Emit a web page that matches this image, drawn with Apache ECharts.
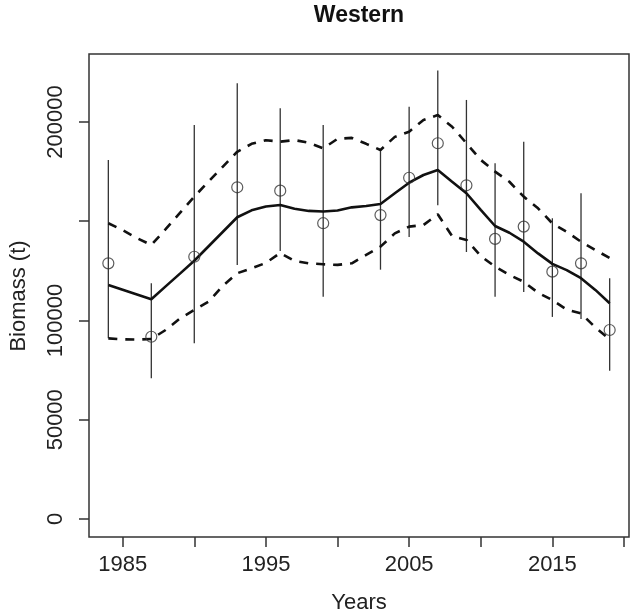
<!DOCTYPE html>
<html>
<head>
<meta charset="utf-8">
<script src="https://cdn.jsdelivr.net/npm/echarts@6/dist/echarts.min.js"></script>
<style>html,body{margin:0;padding:0;background:#fff}#c{width:634px;height:616px}</style>
</head>
<body>
<div id="c"></div>
<script>
// Survey observations
const obsYears = [1984,1987,1990,1993,1996,1999,2003,2005,2007,2009,2011,2013,2015,2017,2019];
const obsValues = [128800,91800,132100,167100,165400,149000,153100,171900,189300,168100,141100,147300,124600,128800,95200];
const obsLower = [91000,70900,88500,128000,135000,112000,125600,142000,158000,134500,112000,114300,101800,100800,74700];
const obsUpper = [180900,118700,198500,219500,206900,198500,185900,207700,225900,211100,179200,190100,151500,164100,121300];

// Model fit (annual)
const fitYears = [1984,1985,1986,1987,1988,1989,1990,1991,1992,1993,1994,1995,1996,1997,1998,1999,2000,2001,2002,2003,2004,2005,2006,2007,2008,2009,2010,2011,2012,2013,2014,2015,2016,2017,2018,2019];
const fitValues = [117900,115500,113100,110700,117200,123600,130100,137400,144700,152000,155500,157400,158200,156300,155200,154900,155400,157000,157700,158700,164100,169400,173300,175800,169900,164100,155700,147600,144200,139700,133800,128500,125400,121300,115400,108700];
const fitUpper = [149000,145500,141500,138000,146000,154200,162400,170000,177500,185000,189000,190800,190100,190900,189500,186700,191500,192000,189000,185900,192500,195100,201000,203500,197600,189300,180900,175000,169900,162400,156500,148900,144700,139700,135500,131500];
const fitLower = [91000,90500,90400,90700,95200,101000,105300,109500,117500,123800,126300,129000,134000,130000,128800,128300,128000,128800,133000,137200,143900,147300,148100,153500,142500,140600,132500,127100,122900,119500,114000,110300,105500,103600,96500,90500];

// Axis ticks and labels
const xTicks = [1985,1990,1995,2000,2005,2010,2015,2020];
const xLabels = [1985,1995,2005,2015];
const yTicks = [0,50000,100000,150000,200000];
const yLabels = [0,50000,100000,200000];

const FONT = '"Liberation Sans", Arial, sans-serif';
const INK = '#222';

const pair = (xs, ys) => xs.map((x, i) => [x, ys[i]]);
const errData = obsYears.map((y, i) => [y, obsLower[i], obsUpper[i]]);
const plain = v => String(Math.round(v));

const chart = echarts.init(document.getElementById('c'), null, {renderer: 'canvas'});
chart.setOption({
  animation: false,
  backgroundColor: '#fff',
  grid: {left: 89, right: 5, top: 54, bottom: 79, show: true, borderColor: '#333', borderWidth: 1.5, backgroundColor: 'transparent'},
  xAxis: {
    type: 'value', min: 1982.65, max: 2020.35,
    axisLine: {show: false, onZero: false},
    splitLine: {show: false},
    axisTick: {show: true, inside: false, length: 10, customValues: xTicks, lineStyle: {color: '#333', width: 1.5}},
    axisLabel: {customValues: xLabels, formatter: plain, margin: 17, fontSize: 22, color: INK, fontFamily: FONT}
  },
  yAxis: {
    type: 'value', min: -9070, max: 234250,
    axisLine: {show: false, onZero: false},
    splitLine: {show: false},
    axisTick: {show: true, inside: false, length: 10, customValues: yTicks, lineStyle: {color: '#333', width: 1.5}},
    axisLabel: {customValues: yLabels, formatter: plain, rotate: 90, margin: 22, fontSize: 22, color: INK, fontFamily: FONT}
  },
  graphic: [
    {type: 'text', x: 359, y: 16, style: {text: 'Western', font: 'bold 23px ' + FONT, fill: '#111', textAlign: 'center', textVerticalAlign: 'middle'}},
    {type: 'text', x: 359, y: 603, style: {text: 'Years', font: '22px ' + FONT, fill: INK, textAlign: 'center', textVerticalAlign: 'middle'}},
    {type: 'text', x: 19, y: 296, rotation: Math.PI / 2, style: {text: 'Biomass (t)', font: '22px ' + FONT, fill: INK, textAlign: 'center', textVerticalAlign: 'middle'}}
  ],
  series: [
    {
      type: 'custom', data: errData, z: 2,
      renderItem: function (params, api) {
        const p1 = api.coord([api.value(0), api.value(1)]);
        const p2 = api.coord([api.value(0), api.value(2)]);
        return {type: 'line', shape: {x1: p1[0], y1: p1[1], x2: p2[0], y2: p2[1]}, style: {stroke: '#333', lineWidth: 1.3}};
      }
    },
    {type: 'line', data: pair(fitYears, fitValues), symbol: 'none', lineStyle: {color: '#111', width: 2.6, type: 'solid'}, z: 3},
    {type: 'line', data: pair(fitYears, fitUpper), symbol: 'none', lineStyle: {color: '#111', width: 2.6, type: [9, 8]}, z: 3},
    {type: 'line', data: pair(fitYears, fitLower), symbol: 'none', lineStyle: {color: '#111', width: 2.6, type: [9, 8]}, z: 3},
    {type: 'scatter', data: pair(obsYears, obsValues), symbol: 'circle', symbolSize: 11, itemStyle: {color: 'rgba(0,0,0,0)', borderColor: '#333', borderWidth: 1.2}, z: 4}
  ]
});
</script>
</body>
</html>
